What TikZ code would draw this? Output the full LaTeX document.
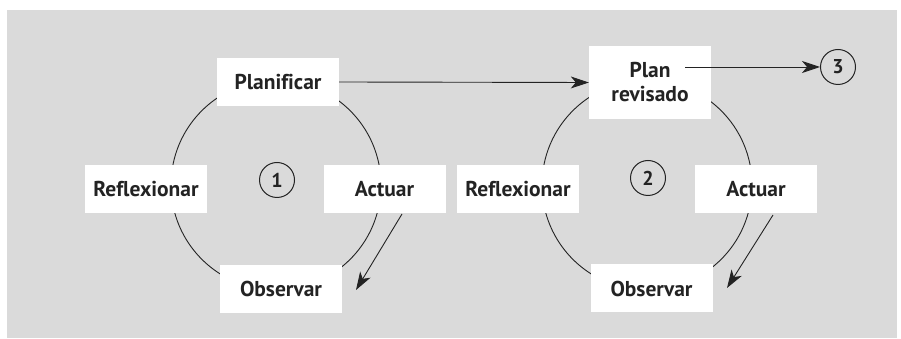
\documentclass[tikz,border=0pt]{standalone}
\usepackage{fontspec}
\setmainfont{PT Sans}[Ligatures=NoCommon]
\usetikzlibrary{arrows.meta}
\definecolor{bggray}{RGB}{218,218,218}
\definecolor{ink}{RGB}{35,35,35}
\tikzset{
  label box/.style={fill=white, inner sep=0pt, minimum width=122pt, minimum height=48pt, font=\fontsize{21.5}{24}\selectfont\bfseries, text=ink, align=center},
  num/.style={draw=ink, text=ink, circle, line width=1pt, minimum size=35pt, inner sep=0pt, font=\fontsize{20}{22}\selectfont\bfseries},
  cycle/.style={draw=ink, line width=0.9pt},
  flow/.style={draw=ink, line width=0.9pt, -{Stealth[length=18pt,width=12pt,inset=5pt]}}
}
\begin{document}
\begin{tikzpicture}[x=1pt,y=1pt]
\useasboundingbox (0,0) rectangle (901,339);
\fill[bggray] (7,1) rectangle (897,329);
% cycle circles
\coordinate (k1) at (276,154);
\coordinate (k2) at (647,154);
\draw[cycle] (k1) circle[radius=105];
\draw[cycle] (k2) circle[radius=105];
% cycle 1
\node[label box] (P) at (278,257) {Planificar};
\node[label box] (R) at (146,150) {Reflexionar};
\node[label box] (A) at (384.5,150) {Actuar};
\node[label box] (O) at (281,50) {Observar};
\node[num] (c1) at (277,159) {1};
% cycle 2
\node[label box, minimum height=73pt] (PR) at (650,256.5) {Plan\\revisado};
\node[label box] (R2) at (518,150) {Reflexionar};
\node[label box] (A2) at (756,150) {Actuar};
\node[label box] (O2) at (651.5,50.5) {Observar};
\node[num] (c2) at (648,161) {2};
\node[num] (c3) at (838,272) {3};
% arrows
\coordinate (a1s) at (402,125);
\coordinate (a1e) at (356,49);
\coordinate (a2s) at (773,124);
\coordinate (a2e) at (727,51);
\coordinate (p3s) at (685,272);
\draw[flow] (P.east) -- (PR.west);
\draw[flow] (p3s) -- (c3.west);
\draw[flow] (a1s) -- (a1e);
\draw[flow] (a2s) -- (a2e);
\end{tikzpicture}
\end{document}
